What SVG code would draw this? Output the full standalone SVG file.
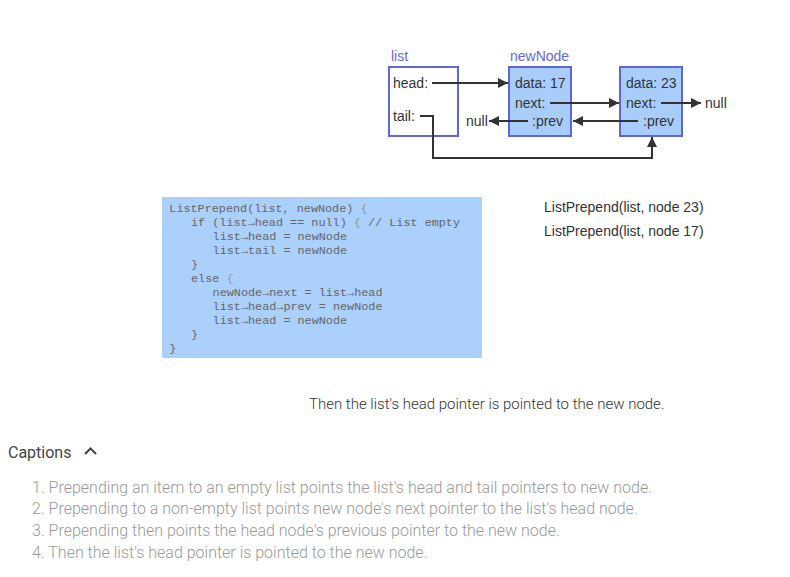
<svg xmlns="http://www.w3.org/2000/svg" width="790" height="577" viewBox="0 0 790 577">
<defs>
<marker id="arr" viewBox="0 0 10 10" refX="10" refY="5" markerWidth="5" markerHeight="5" orient="auto" markerUnits="strokeWidth">
<path d="M0,0 L10,5 L0,10 z" fill="#333"/>
</marker>
</defs>
<style>
.lbl{font-family:"Liberation Sans",Arial,sans-serif;font-size:14px;fill:#333}
.title{font-family:"Liberation Sans",Arial,sans-serif;font-size:14px;fill:#6666e6}
.box{fill:#fff;stroke:#5a67e0;stroke-width:2}
.node{fill:#a8cdfb;stroke:#5a67e0;stroke-width:2}
.conn{fill:none;stroke:#333;stroke-width:2;marker-end:url(#arr)}
.code{font-family:"Liberation Mono","Courier New",monospace;font-size:11.8px;fill:#666;white-space:pre}
.code .br{fill:#999}
.call{font-family:"Liberation Sans",Arial,sans-serif;font-size:14px;fill:#333}
.desc{font-family:Roboto,sans-serif;font-weight:300;font-size:15px;fill:#333}
.cap{font-family:Roboto,sans-serif;font-weight:300;font-size:16px;fill:#999}
.caph{font-family:Roboto,sans-serif;font-weight:400;font-size:16px;fill:#444}
</style>
<rect width="790" height="577" fill="#fff"/>

<g id="list">
<text class="title" x="391" y="61">list</text>
<rect class="box" x="389" y="67" width="69" height="69"/>
<text class="lbl" x="393" y="88">head:</text>
<text class="lbl" x="393" y="121">tail:</text>
</g>

<g id="node17">
<text class="title" x="510" y="61">newNode</text>
<rect class="node" x="509" y="67" width="62" height="69"/>
<text class="lbl" x="515" y="88">data: 17</text>
<text class="lbl" x="515" y="108">next:</text>
<text class="lbl" x="532" y="126">:prev</text>
</g>

<g id="node23">
<rect class="node" x="620" y="67" width="62" height="69"/>
<text class="lbl" x="626" y="88">data: 23</text>
<text class="lbl" x="626" y="108">next:</text>
<text class="lbl" x="643" y="126">:prev</text>
</g>

<g id="nulls">
<text class="lbl" x="466" y="126">null</text>
<text class="lbl" x="705" y="108">null</text>
</g>

<g id="connectors">
<line class="conn" x1="432" y1="83" x2="508" y2="83"/>
<line class="conn" x1="550" y1="103" x2="619" y2="103"/>
<line class="conn" x1="661" y1="103" x2="701" y2="103"/>
<line class="conn" x1="638" y1="121" x2="573" y2="121"/>
<line class="conn" x1="528" y1="121" x2="489" y2="121"/>
<path class="conn" d="M420,116 H433 V158 H652 V137"/>
</g>

<g id="code">
<rect x="162" y="197" width="320" height="161" fill="#aad0fb"/>
<text class="code" x="169.3" y="212">ListPrepend(list, newNode) <tspan class="br">{</tspan></text>
<text class="code" x="191" y="226">if (list→head == null) <tspan class="br">{</tspan> // List empty</text>
<text class="code" x="212.6" y="240">list→head = newNode</text>
<text class="code" x="212.6" y="254">list→tail = newNode</text>
<text class="code br" x="191" y="268">}</text>
<text class="code" x="191" y="282">else <tspan class="br">{</tspan></text>
<text class="code" x="212.6" y="296">newNode→next = list→head</text>
<text class="code" x="212.6" y="310">list→head→prev = newNode</text>
<text class="code" x="212.6" y="324">list→head = newNode</text>
<text class="code br" x="191" y="338">}</text>
<text class="code br" x="169.3" y="352">}</text>
</g>

<g id="calls">
<text class="call" x="544" y="212">ListPrepend(list, node 23)</text>
<text class="call" x="544" y="236">ListPrepend(list, node 17)</text>
</g>

<text class="desc" x="309" y="409">Then the list's head pointer is pointed to the new node.</text>

<g id="captions">
<text class="caph" x="8" y="458">Captions</text>
<path d="M85,454 L90.5,448.5 L96,454" fill="none" stroke="#444" stroke-width="2"/>
<text class="cap" x="32" y="493">1. Prepending an item to an empty list points the list's head and tail pointers to new node.</text>
<text class="cap" x="32" y="514">2. Prepending to a non-empty list points new node's next pointer to the list's head node.</text>
<text class="cap" x="32" y="536">3. Prepending then points the head node's previous pointer to the new node.</text>
<text class="cap" x="32" y="558">4. Then the list's head pointer is pointed to the new node.</text>
</g>
</svg>
